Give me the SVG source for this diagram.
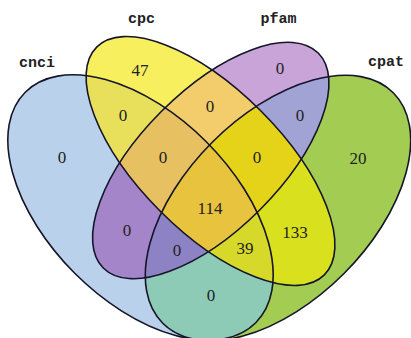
<svg xmlns="http://www.w3.org/2000/svg" xmlns:xlink="http://www.w3.org/1999/xlink" width="411" height="338" viewBox="0 0 411 338">
<style>
.num{font-family:"Liberation Serif","Times New Roman",serif;font-size:17px;fill:#222;text-anchor:middle}
.lab{font-family:"Liberation Mono","Courier New",monospace;font-size:15px;font-weight:bold;fill:#222;text-anchor:middle}
.ol{fill:none;stroke:#15152a;stroke-width:1.6}
</style>
<defs>
<ellipse id="eB" cx="140.5" cy="207.5" rx="163" ry="93" transform="rotate(45 140.5 207.5)"/>
<ellipse id="eY" cx="210.5" cy="161" rx="161" ry="71" transform="rotate(45 210.5 161)"/>
<ellipse id="eP" cx="210.75" cy="160.5" rx="152" ry="69.6" transform="rotate(-45 210.75 160.5)"/>
<ellipse id="eG" cx="278" cy="208" rx="163" ry="93" transform="rotate(-45 278 208)"/>
<clipPath id="cB"><use xlink:href="#eB"/></clipPath>
<clipPath id="cY"><use xlink:href="#eY"/></clipPath>
<clipPath id="cP"><use xlink:href="#eP"/></clipPath>
<clipPath id="cG"><use xlink:href="#eG"/></clipPath>
</defs>
<rect width="411" height="338" fill="#ffffff"/>
<g id="regions">
<use xlink:href="#eB" fill="#b9d1ea"/>
<use xlink:href="#eY" fill="#f7ef5e"/>
<use xlink:href="#eP" fill="#c9a4d9"/>
<use xlink:href="#eG" fill="#a3cc52"/>
<g clip-path="url(#cB)"><use xlink:href="#eY" fill="#e8e05a"/></g>
<g clip-path="url(#cB)"><use xlink:href="#eP" fill="#a585c9"/></g>
<g clip-path="url(#cB)"><use xlink:href="#eG" fill="#8ecbb6"/></g>
<g clip-path="url(#cY)"><use xlink:href="#eP" fill="#f3cd6c"/></g>
<g clip-path="url(#cY)"><use xlink:href="#eG" fill="#d9e01e"/></g>
<g clip-path="url(#cP)"><use xlink:href="#eG" fill="#a0a3d4"/></g>
<g clip-path="url(#cB)"><g clip-path="url(#cY)"><use xlink:href="#eP" fill="#e6c061"/></g></g>
<g clip-path="url(#cB)"><g clip-path="url(#cY)"><use xlink:href="#eG" fill="#d6d82a"/></g></g>
<g clip-path="url(#cB)"><g clip-path="url(#cP)"><use xlink:href="#eG" fill="#8c82c4"/></g></g>
<g clip-path="url(#cY)"><g clip-path="url(#cP)"><use xlink:href="#eG" fill="#e5d319"/></g></g>
<g clip-path="url(#cB)"><g clip-path="url(#cY)"><g clip-path="url(#cP)"><use xlink:href="#eG" fill="#e7c33e"/></g></g></g>
</g>
<g id="cnci"><use xlink:href="#eB" class="ol"/><text class="lab" x="37" y="67">cnci</text></g>
<g id="cpc"><use xlink:href="#eY" class="ol"/><text class="lab" x="141.5" y="23">cpc</text></g>
<g id="pfam"><use xlink:href="#eP" class="ol"/><text class="lab" x="278.5" y="23">pfam</text></g>
<g id="cpat"><use xlink:href="#eG" class="ol"/><text class="lab" x="386" y="66">cpat</text></g>
<g id="counts">
<text class="num" x="140" y="76">47</text>
<text class="num" x="280" y="74">0</text>
<text class="num" x="62" y="163">0</text>
<text class="num" x="358" y="164">20</text>
<text class="num" x="123" y="121">0</text>
<text class="num" x="210" y="112">0</text>
<text class="num" x="300" y="121">0</text>
<text class="num" x="163" y="163">0</text>
<text class="num" x="257" y="163">0</text>
<text class="num" x="210" y="214">114</text>
<text class="num" x="127" y="236">0</text>
<text class="num" x="295" y="238">133</text>
<text class="num" x="177" y="256">0</text>
<text class="num" x="245" y="254">39</text>
<text class="num" x="211" y="301">0</text>
</g>
</svg>
